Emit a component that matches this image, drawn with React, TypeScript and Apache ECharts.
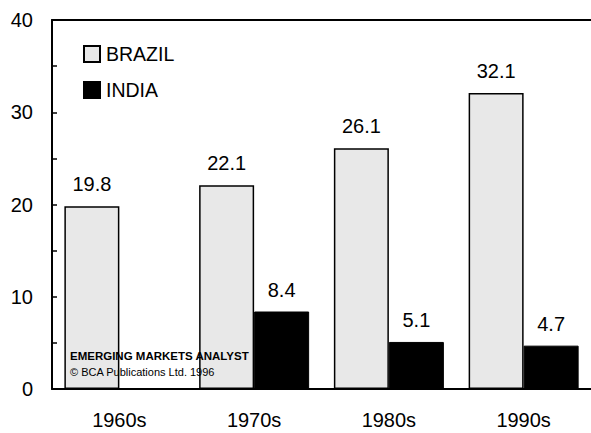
import React, { useEffect, useRef } from "react";
import * as echarts from "echarts";

const categories = ["1960s", "1970s", "1980s", "1990s"];
const brazil = [19.8, 22.1, 26.1, 32.1];
const india: (number | null)[] = [null, 8.4, 5.1, 4.7];
const seriesNames = ["BRAZIL", "INDIA"];

export default function App() {
  const ref = useRef<HTMLDivElement>(null);
  useEffect(() => {
    const chart = echarts.init(ref.current!, null, { renderer: "svg" });
    const font = "Liberation Sans, Arial, sans-serif";
    const labelStyle = {
      show: true,
      position: "top" as const,
      distance: 12,
      color: "#000",
      fontSize: 20,
      fontFamily: font,
      formatter: (p: any) => Number(p.value).toFixed(1),
    };
    chart.setOption({
      animation: false,
      backgroundColor: "#fff",
      grid: { left: 52, right: 0, top: 20, bottom: 44, containLabel: false },
      legend: {
        orient: "vertical",
        left: 83,
        top: 44,
        padding: 0,
        icon: "rect",
        itemWidth: 16,
        itemHeight: 16,
        itemGap: 16,
        textStyle: { fontSize: 19.5, fontFamily: font, color: "#000", padding: [0, 0, 0, 1] },
        data: seriesNames,
      },
      xAxis: [
        {
          type: "category",
          data: categories,
          axisLine: { lineStyle: { color: "#000", width: 2 } },
          axisTick: { show: false },
          axisLabel: { fontSize: 20, fontFamily: font, color: "#000", margin: 21 },
        },
        {
          type: "category",
          position: "top",
          data: categories,
          axisLine: { show: true, lineStyle: { color: "#000", width: 2 } },
          axisTick: { show: false },
          axisLabel: { show: false },
        },
      ],
      yAxis: {
        type: "value",
        min: 0,
        max: 40,
        interval: 10,
        axisLine: { show: true, lineStyle: { color: "#000", width: 2 } },
        axisTick: { show: true, inside: true, length: 5, lineStyle: { color: "#000", width: 1.5 } },
        minorTick: { show: true, splitNumber: 2, length: 5, lineStyle: { color: "#000", width: 1.5 } },
        splitLine: { show: false },
        axisLabel: { fontSize: 20, fontFamily: font, color: "#000", margin: 19 },
      },
      series: [
        {
          name: seriesNames[0],
          type: "bar",
          data: brazil,
          barWidth: 55,
          barGap: "0%",
          itemStyle: { color: "#e8e8e8", borderColor: "#000", borderWidth: 1.5 },
          label: labelStyle,
        },
        {
          name: seriesNames[1],
          type: "bar",
          data: india,
          barWidth: 55,
          itemStyle: { color: "#000", borderColor: "#000", borderWidth: 1 },
          label: labelStyle,
        },
      ],
      graphic: [
        {
          type: "text",
          left: 70,
          top: 350,
          z: 100,
          style: {
            text: "EMERGING MARKETS ANALYST",
            fontSize: 11.5,
            fontWeight: "bold",
            fontFamily: font,
            fill: "#000",
          },
        },
        {
          type: "text",
          left: 70,
          top: 366,
          z: 100,
          style: {
            text: "© BCA Publications Ltd. 1996",
            fontSize: 11,
            fontFamily: font,
            fill: "#000",
          },
        },
      ],
    });
    return () => chart.dispose();
  }, []);
  return (
    <div
      ref={ref}
      style={{ position: "absolute", left: 0, top: 0, width: 591, height: 433 }}
    />
  );
}
